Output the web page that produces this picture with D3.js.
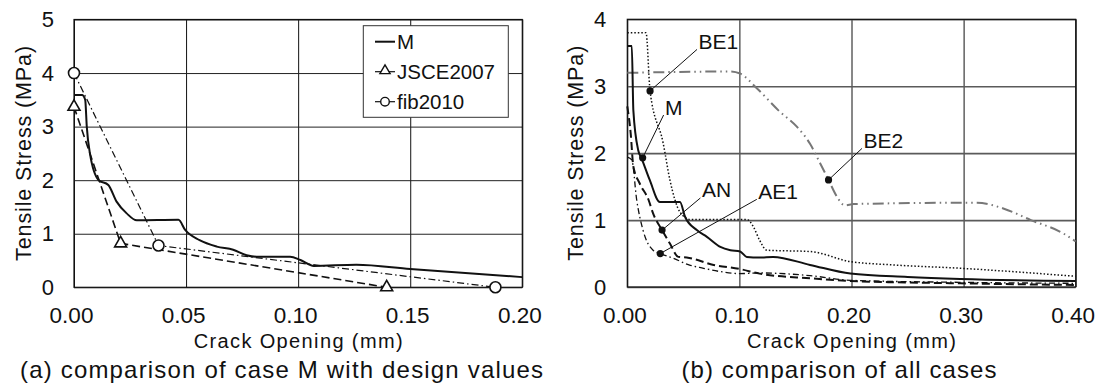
<!DOCTYPE html>
<html>
<head>
<meta charset="utf-8">
<script src="https://cdn.jsdelivr.net/npm/d3@7"></script>
<style>
  body { margin: 0; background: #fff; }
  text { font-family: "Liberation Sans", Arial, sans-serif; fill: #111; }
</style>
</head>
<body>
<div id="chart"></div>
<script>
// ---- (a) case M vs design values ----
var ticksA_x = [0, 0.05, 0.1, 0.15, 0.2];
var ticksA_y = [0, 1, 2, 3, 4, 5];

var mA_x = [0, 0.0036, 0.005, 0.0057, 0.0071, 0.011, 0.0153, 0.019, 0.0235, 0.028, 0.0466, 0.0496, 0.056, 0.0637, 0.071, 0.077, 0.0815, 0.0964, 0.101, 0.107, 0.126, 0.15, 0.2];
var mA_y = [3.59, 3.59, 3.5, 3.0, 2.5, 2.0, 1.91, 1.6, 1.38, 1.25, 1.26, 1.07, 0.88, 0.76, 0.7, 0.6, 0.57, 0.57, 0.51, 0.4, 0.42, 0.34, 0.19];
var jsce_x = [0, 0.0208, 0.1395];
var jsce_y = [3.37, 0.82, 0];
var fib_x = [0, 0.0377, 0.188];
var fib_y = [4.0, 0.78, 0];

// ---- (b) all cases ----
var ticksB_x = [0, 0.1, 0.2, 0.3, 0.4];
var ticksB_y = [0, 1, 2, 3, 4];

var mB_x = [0, 0.004, 0.0054, 0.0098, 0.0128, 0.02, 0.029, 0.047, 0.0515, 0.062, 0.071, 0.083, 0.092, 0.1006, 0.1066, 0.118, 0.13, 0.163, 0.199, 0.25, 0.297, 0.4];
var mB_y = [3.6, 3.6, 2.64, 2.04, 1.92, 1.6, 1.27, 1.27, 1.05, 0.85, 0.75, 0.6, 0.55, 0.53, 0.45, 0.44, 0.45, 0.33, 0.2, 0.15, 0.12, 0.09];
var be1_x = [0, 0.0167, 0.0203, 0.032, 0.038, 0.047, 0.056, 0.1066, 0.1125, 0.118, 0.1245, 0.163, 0.199, 0.2375, 0.297, 0.4];
var be1_y = [3.8, 3.8, 2.93, 2.15, 1.6, 1.12, 1.01, 1.01, 0.9, 0.7, 0.55, 0.53, 0.38, 0.33, 0.28, 0.16];
var be2_x = [0, 0.0916, 0.1006, 0.1155, 0.136, 0.151, 0.163, 0.172, 0.1795, 0.187, 0.194, 0.202, 0.312, 0.336, 0.36, 0.389, 0.4];
var be2_y = [3.2, 3.22, 3.19, 2.97, 2.62, 2.4, 2.14, 1.85, 1.6, 1.35, 1.22, 1.24, 1.26, 1.17, 1.0, 0.8, 0.68];
var an_x = [0, 0.003, 0.0054, 0.011, 0.019, 0.023, 0.031, 0.038, 0.0455, 0.053, 0.077, 0.1, 0.118, 0.163, 0.199, 0.297, 0.4];
var an_y = [2.7, 2.3, 1.8, 1.55, 1.3, 1.1, 0.85, 0.65, 0.45, 0.44, 0.33, 0.27, 0.2, 0.13, 0.09, 0.055, 0.03];
var ae1_x = [0, 0.004, 0.0084, 0.014, 0.023, 0.0294, 0.041, 0.055, 0.068, 0.083, 0.1, 0.118, 0.163, 0.199, 0.297, 0.4];
var ae1_y = [1.94, 1.9, 1.3, 0.85, 0.55, 0.5, 0.43, 0.33, 0.28, 0.23, 0.2, 0.21, 0.17, 0.1, 0.07, 0.055];

// labelled points: name, point (x, y), leader end (x, y)
var callouts = [
  ["BE1", 0.0203, 2.93, 0.0622, 3.55],
  ["M", 0.0137, 1.93, 0.0324, 2.57],
  ["AN", 0.031, 0.85, 0.0652, 1.33],
  ["AE1", 0.0294, 0.5, 0.1155, 1.31],
  ["BE2", 0.1795, 1.6, 0.2093, 2.07]
];

var svg = d3
  .select("#chart")
  .append("svg")
  .attr("width", 1102)
  .attr("height", 387)
  .style("background", "#fff");

function drawPanel(p) {
  var x = d3.scaleLinear().domain(p.xDomain).range([p.left, p.right]);
  var y = d3.scaleLinear().domain(p.yDomain).range([p.bottom, p.top]);
  var g = svg.append("g");

  // grid + tick labels
  var xAxis = d3
    .axisBottom(x)
    .tickValues(p.xTicks)
    .tickSize(-(p.bottom - p.top))
    .tickPadding(20)
    .tickFormat(d3.format(".2f"));
  var gx = g
    .append("g")
    .attr("transform", "translate(0," + p.bottom + ")")
    .call(xAxis);
  gx.select(".domain").remove();
  gx.selectAll("line").attr("stroke", "#111").attr("stroke-width", 1);
  gx.selectAll("text")
    .attr("dx", -3)
    .style("font-size", "22.5px")
    .style("font-family", "Liberation Sans, Arial, sans-serif")
    .attr("fill", "#111");

  var yAxis = d3
    .axisLeft(y)
    .tickValues(p.yTicks)
    .tickSize(-(p.right - p.left))
    .tickPadding(p.yPad)
    .tickFormat(d3.format("d"));
  var gy = g
    .append("g")
    .attr("transform", "translate(" + p.left + ",0)")
    .call(yAxis);
  gy.select(".domain").remove();
  gy.selectAll("line").attr("stroke", p.hGrid).attr("stroke-width", p.hGridW);
  gy.selectAll("text")
    .style("font-size", "22px")
    .style("font-family", "Liberation Sans, Arial, sans-serif")
    .attr("fill", "#111");

  g.append("rect")
    .attr("x", p.left)
    .attr("y", p.top)
    .attr("width", p.right - p.left)
    .attr("height", p.bottom - p.top)
    .attr("fill", "none")
    .attr("stroke", "#111")
    .attr("stroke-width", 1.2);

  // titles
  g.append("text")
    .attr("transform", "translate(" + p.yTitleX + "," + (p.top + p.bottom) / 2 + ") rotate(-90)")
    .attr("text-anchor", "middle")
    .attr("dy", "0.35em")
    .attr("textLength", 215)
    .attr("lengthAdjust", "spacing")
    .style("font-size", "21.5px")
    .text("Tensile Stress (MPa)");

  g.append("text")
    .attr("x", (p.left + p.right) / 2)
    .attr("y", 348)
    .attr("text-anchor", "middle")
    .attr("textLength", 209)
    .attr("lengthAdjust", "spacing")
    .style("font-size", "20px")
    .text("Crack Opening (mm)");

  g.append("text")
    .attr("x", p.capX)
    .attr("y", 378)
    .attr("text-anchor", "middle")
    .attr("textLength", p.capW)
    .attr("lengthAdjust", "spacing")
    .style("font-size", "24px")
    .text(p.caption);

  var line = d3
    .line()
    .x((d) => x(d[0]))
    .y((d) => y(d[1]));

  p.series.forEach(function (s) {
    g.append("path")
      .datum(d3.zip(s.xs, s.ys))
      .attr("d", line.curve(s.curve || d3.curveLinear))
      .attr("fill", "none")
      .attr("stroke", s.color)
      .attr("stroke-width", s.width)
      .attr("stroke-dasharray", s.dash);
  });

  return { g: g, x: x, y: y };
}

// ---------------- panel (a)
var pa = drawPanel({
  xDomain: [0, 0.2], yDomain: [0, 5],
  left: 74, right: 522.3, top: 19.5, bottom: 287.3,
  xTicks: ticksA_x, yTicks: ticksA_y, yPad: 20,
  hGrid: "#222", hGridW: 1,
  yTitleX: 23, capX: 281.5, capW: 523,
  caption: "(a) comparison of case M with design values",
  series: [
    { xs: fib_x, ys: fib_y, color: "#111", width: 1.2, dash: "7,3,1.5,3" },
    { xs: jsce_x, ys: jsce_y, color: "#111", width: 1.6, dash: "8,4" },
    { xs: mA_x, ys: mA_y, color: "#111", width: 2, dash: null, curve: d3.curveMonotoneX }
  ]
});

pa.g.selectAll(".tri")
  .data(d3.zip(jsce_x, jsce_y))
  .enter()
  .append("path")
  .attr("class", "tri")
  .attr("d", d3.symbol(d3.symbolTriangle).size(62))
  .attr("transform", (d) => "translate(" + pa.x(d[0]) + "," + pa.y(d[1]) + ")")
  .attr("fill", "#fff")
  .attr("stroke", "#111")
  .attr("stroke-width", 1.6);

pa.g.selectAll(".circ")
  .data(d3.zip(fib_x, fib_y))
  .enter()
  .append("circle")
  .attr("class", "circ")
  .attr("cx", (d) => pa.x(d[0]))
  .attr("cy", (d) => pa.y(d[1]))
  .attr("r", 5.5)
  .attr("fill", "#fff")
  .attr("stroke", "#111")
  .attr("stroke-width", 1.6);

// legend
var legend = pa.g.append("g").attr("class", "legend");
legend
  .append("rect")
  .attr("x", 363.3)
  .attr("y", 25.7)
  .attr("width", 145)
  .attr("height", 91.6)
  .attr("fill", "#fff")
  .attr("stroke", "#333")
  .attr("stroke-width", 1);

var legendItems = ["M", "JSCE2007", "fib2010"];
legendItems.forEach(function (name, i) {
  var ly = 41.7 + i * 30;
  legend.append("line")
    .attr("x1", 375).attr("x2", 395)
    .attr("y1", ly).attr("y2", ly)
    .attr("stroke", "#111")
    .attr("stroke-width", i == 0 ? 2 : 1.2);
  if (i == 1) {
    legend.append("path")
      .attr("d", d3.symbol(d3.symbolTriangle).size(45))
      .attr("transform", "translate(385," + (ly - 1) + ")")
      .attr("fill", "#fff").attr("stroke", "#111").attr("stroke-width", 1.4);
  }
  if (i == 2) {
    legend.append("circle")
      .attr("cx", 385).attr("cy", ly).attr("r", 4.3)
      .attr("fill", "#fff").attr("stroke", "#111").attr("stroke-width", 1.4);
  }
  legend.append("text")
    .attr("x", 397)
    .attr("y", ly)
    .attr("dy", "0.36em")
    .style("font-size", "20.5px")
    .text(name);
});

// ---------------- panel (b)
var pb = drawPanel({
  xDomain: [0, 0.4], yDomain: [0, 4],
  left: 627.3, right: 1075.7, top: 19.3, bottom: 287,
  xTicks: ticksB_x, yTicks: ticksB_y, yPad: 21,
  hGrid: "#5a5a5a", hGridW: 1.6,
  yTitleX: 575, capX: 839, capW: 315,
  caption: "(b) comparison of all cases",
  series: [
    { xs: be2_x, ys: be2_y, color: "#777", width: 2, dash: "11,4,1.5,4,1.5,4", curve: d3.curveMonotoneX },
    { xs: be1_x, ys: be1_y, color: "#111", width: 1.5, dash: "1.5,2", curve: d3.curveMonotoneX },
    { xs: ae1_x, ys: ae1_y, color: "#111", width: 1.3, dash: "6,3,1.5,3", curve: d3.curveMonotoneX },
    { xs: an_x, ys: an_y, color: "#111", width: 2, dash: "8,4", curve: d3.curveMonotoneX },
    { xs: mB_x, ys: mB_y, color: "#111", width: 2, dash: null, curve: d3.curveMonotoneX }
  ]
});

var call = pb.g.selectAll(".callout").data(callouts).enter().append("g").attr("class", "callout");
call.append("line")
  .attr("x1", (d) => pb.x(d[1]))
  .attr("y1", (d) => pb.y(d[2]))
  .attr("x2", (d) => pb.x(d[3]))
  .attr("y2", (d) => pb.y(d[4]))
  .attr("stroke", "#111")
  .attr("stroke-width", 1);
call.append("circle")
  .attr("cx", (d) => pb.x(d[1]))
  .attr("cy", (d) => pb.y(d[2]))
  .attr("r", 3.6)
  .attr("fill", "#111");
call.append("text")
  .attr("x", (d) => pb.x(d[3]) + 1.5)
  .attr("y", (d) => pb.y(d[4]) - 0.5)
  .style("font-size", "21px")
  .text((d) => d[0]);
</script>
</body>
</html>
